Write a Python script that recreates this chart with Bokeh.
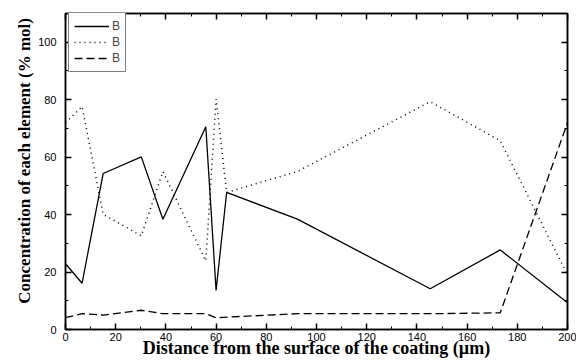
from bokeh.plotting import figure
from bokeh.models import (Range1d, LinearAxis, FixedTicker, Legend, LegendItem)
from bokeh.embed import file_html
from bokeh.resources import INLINE

# Data
distance = [0, 6.6, 15, 30.2, 38.8, 55.9, 60, 64.2, 92.4, 145.3, 173.2, 200]
series_solid = [22.9, 16.1, 54.3, 60.1, 38.4, 70.6, 13.6, 47.7, 38.4, 14.2, 27.7, 9.3]
series_dotted = [72.0, 77.6, 40.1, 32.6, 55.0, 23.9, 80.2, 47.7, 55.0, 79.3, 65.7, 19.0]
series_dashed = [4.1, 5.5, 5.0, 6.7, 5.5, 5.5, 4.1, 4.3, 5.5, 5.5, 5.8, 72.0]
legend_labels = ["B", "B", "B"]
x_major = list(range(0, 201, 20))
x_minor = list(range(0, 201, 10))
y_major = list(range(0, 101, 20))
y_minor = list(range(0, 111, 10))

W, H = 576, 360
p = figure(width=W, height=H, output_backend="svg", toolbar_location=None,
           x_range=Range1d(0, 200), y_range=Range1d(0, 110),
           min_border_left=65, min_border_right=9, min_border_top=13, min_border_bottom=31)
p.grid.visible = False
p.background_fill_color = "white"
p.border_fill_color = "white"
p.outline_line_color = "black"
p.outline_line_width = 1.5

def style_axis(ax, ticks, minor, show_labels=True):
    ax.ticker = FixedTicker(ticks=ticks, minor_ticks=minor)
    ax.axis_line_color = "black"
    ax.axis_line_width = 1.5
    ax.major_tick_in = 6
    ax.major_tick_out = 0
    ax.minor_tick_in = 3
    ax.minor_tick_out = 0
    ax.major_tick_line_width = 1.5
    ax.minor_tick_line_width = 1
    ax.major_tick_line_color = "black"
    ax.minor_tick_line_color = "black"
    ax.major_label_text_font = "Liberation Sans"
    ax.major_label_text_font_size = "11px"
    ax.major_label_text_color = "black"
    if not show_labels:
        ax.major_label_overrides = {t: "" for t in ticks}
        ax.major_label_standoff = 0

xa = p.xaxis[0]
ya = p.yaxis[0]
style_axis(xa, x_major, x_minor)
style_axis(ya, y_major, y_minor)
xa.major_label_standoff = 3
ya.major_label_standoff = 9
xa.axis_label = "Distance from the surface of the coating (µm)"
ya.axis_label = "\u00a0" * 5 + "Concentration of each element (% mol)"
for ax in (xa, ya):
    ax.axis_label_text_font = "Liberation Serif"
    ax.axis_label_text_font_style = "bold"
    ax.axis_label_text_color = "black"
xa.axis_label_text_font_size = "18px"
ya.axis_label_text_font_size = "17px"
xa.axis_label_standoff = -6
ya.axis_label_standoff = 1

top = LinearAxis()
style_axis(top, x_major, x_minor, show_labels=False)
p.add_layout(top, "above")
right = LinearAxis()
style_axis(right, y_major, y_minor, show_labels=False)
p.add_layout(right, "right")

r1 = p.line(distance, series_solid, line_color="black", line_width=1.3)
r2 = p.line(distance, series_dotted, line_color="black", line_width=1.5, line_dash="1 4")
r3 = p.line(distance, series_dashed, line_color="black", line_width=1.3, line_dash="8 4")

legend = Legend(items=[LegendItem(label=legend_labels[0], renderers=[r1]),
                       LegendItem(label=legend_labels[1], renderers=[r2]),
                       LegendItem(label=legend_labels[2], renderers=[r3])],
                location=(3, 257))
legend.border_line_color = "black"
legend.border_line_width = 1
legend.background_fill_color = "white"
legend.background_fill_alpha = 1
legend.label_text_font = "Liberation Sans"
legend.label_text_font_size = "12px"
legend.label_height = 16
legend.label_width = 8
legend.glyph_height = 16
legend.glyph_width = 35
legend.label_standoff = 3
legend.spacing = 0
legend.padding = 5
legend.margin = 0
p.add_layout(legend)

open("out.html", "w").write(file_html(p, INLINE))
